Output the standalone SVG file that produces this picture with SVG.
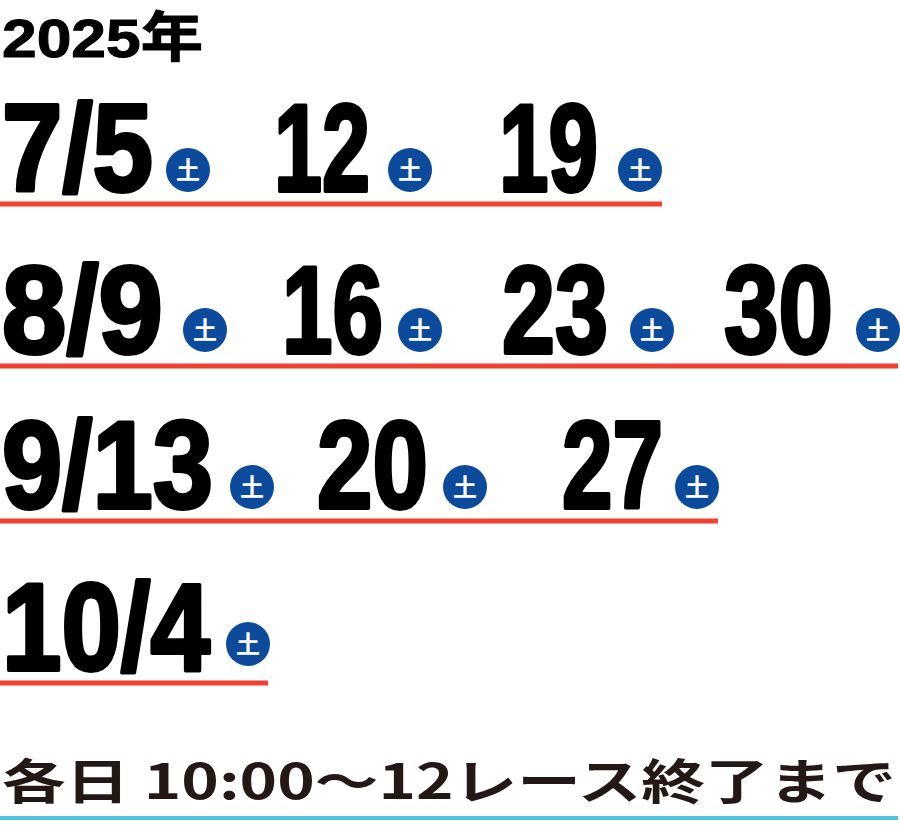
<svg xmlns="http://www.w3.org/2000/svg" width="900" height="829" viewBox="0 0 900 829">
<style>
.d{font-family:"Liberation Sans",Arial,sans-serif;font-weight:bold;font-size:124px;fill:#000;stroke:#000;stroke-width:4;stroke-linejoin:round}
.b{fill:#0c4a9c}
.k{font-family:"Noto Sans CJK JP",sans-serif;font-size:24px;fill:#fff;text-anchor:middle;font-weight:bold}
.r{stroke:#f0402f;stroke-width:5}
</style>
<rect width="900" height="829" fill="#fff"/>
<text x="2" y="57" font-family="'Liberation Sans','Noto Sans CJK JP',sans-serif" font-weight="bold" font-size="54" stroke="#000" stroke-width="1" textLength="201" lengthAdjust="spacingAndGlyphs">2025年</text>
<g class="d">
<text x="2" y="191" textLength="151" lengthAdjust="spacingAndGlyphs">7/5</text>
<text x="274" y="191" textLength="96" lengthAdjust="spacingAndGlyphs">12</text>
<text x="499" y="191" textLength="99" lengthAdjust="spacingAndGlyphs">19</text>
<text x="2" y="353" textLength="161" lengthAdjust="spacingAndGlyphs">8/9</text>
<text x="282" y="353" textLength="101" lengthAdjust="spacingAndGlyphs">16</text>
<text x="502" y="353" textLength="106" lengthAdjust="spacingAndGlyphs">23</text>
<text x="724" y="353" textLength="109" lengthAdjust="spacingAndGlyphs">30</text>
<text x="2" y="508" textLength="211" lengthAdjust="spacingAndGlyphs">9/13</text>
<text x="317" y="508" textLength="111" lengthAdjust="spacingAndGlyphs">20</text>
<text x="562" y="508" textLength="101" lengthAdjust="spacingAndGlyphs">27</text>
<text x="2" y="670" textLength="208" lengthAdjust="spacingAndGlyphs">10/4</text>
</g>
<g>
<circle class="b" cx="188" cy="170" r="22"/><text class="k" x="188" y="179">土</text>
<circle class="b" cx="410" cy="170" r="22"/><text class="k" x="410" y="179">土</text>
<circle class="b" cx="640" cy="170" r="22"/><text class="k" x="640" y="179">土</text>
<circle class="b" cx="205" cy="330" r="22"/><text class="k" x="205" y="339">土</text>
<circle class="b" cx="420" cy="330" r="22"/><text class="k" x="420" y="339">土</text>
<circle class="b" cx="652" cy="330" r="22"/><text class="k" x="652" y="339">土</text>
<circle class="b" cx="878" cy="330" r="22"/><text class="k" x="878" y="339">土</text>
<circle class="b" cx="252" cy="487" r="22"/><text class="k" x="252" y="496">土</text>
<circle class="b" cx="465" cy="487" r="22"/><text class="k" x="465" y="496">土</text>
<circle class="b" cx="697" cy="487" r="22"/><text class="k" x="697" y="496">土</text>
<circle class="b" cx="248" cy="644" r="22"/><text class="k" x="248" y="653">土</text>
</g>
<line class="r" x1="0" y1="204" x2="662" y2="204"/>
<line class="r" x1="0" y1="366" x2="898" y2="366"/>
<line class="r" x1="0" y1="521" x2="718" y2="521"/>
<line class="r" x1="0" y1="683" x2="268" y2="683"/>
<text x="2" y="799" font-family="'Noto Sans CJK JP',sans-serif" font-weight="bold" font-size="48" fill="#231815" textLength="894" lengthAdjust="spacingAndGlyphs">各日 10:00～12レース終了まで</text>
<line x1="0" y1="818" x2="898" y2="818" stroke="#4ec3e0" stroke-width="4"/>
</svg>
